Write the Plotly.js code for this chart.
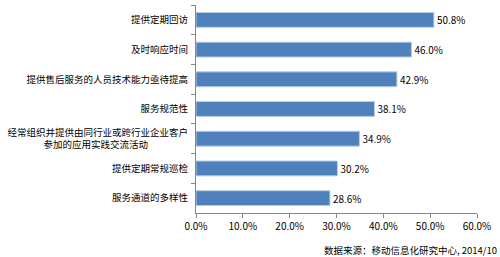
<!DOCTYPE html>
<html>
<head>
<meta charset="utf-8">
<script src="https://cdn.plot.ly/plotly-3.0.1.min.js"></script>
<style>html,body{margin:0;padding:0;background:#fff;}#chart{width:500px;height:257px;}</style>
</head>
<body>
<div id="chart"></div>
<script>
const categories = [
  "提供定期回访",
  "及时响应时间",
  "提供售后服务的人员技术能力亟待提高",
  "服务规范性",
  "经常组织并提供由同行业或跨行业企业客户<br>参加的应用实践交流活动　　　　 ",
  "提供定期常规巡检",
  "服务通道的多样性"
];
const values = [50.8, 46.0, 42.9, 38.1, 34.9, 30.2, 28.6];
const xTicks = [0, 10, 20, 30, 40, 50, 60];
const sourceText = "数据来源：移动信息化研究中心, 2014/10";

const FONT = "Noto Sans CJK SC, sans-serif";

Plotly.newPlot("chart", [{
  type: "bar",
  orientation: "h",
  y: categories,
  x: values,
  marker: {color: "#4F81BD", line: {color: "#B9CDE5", width: 1}},
  text: values.map(v => v.toFixed(1) + "%"),
  textposition: "outside",
  textfont: {family: FONT, size: 10, color: "#000"},
  cliponaxis: false,
  hoverinfo: "none"
}], {
  width: 500, height: 257,
  margin: {l: 196, r: 23, t: 5, b: 44, pad: 0},
  paper_bgcolor: "#fff", plot_bgcolor: "#fff",
  bargap: 0.5,
  showlegend: false,
  font: {family: FONT, size: 10, color: "#000"},
  xaxis: {
    range: [0, 60],
    tickvals: xTicks,
    ticktext: xTicks.map(v => v.toFixed(1) + "%"),
    showgrid: false, zeroline: false,
    showline: true, linecolor: "#868686", linewidth: 1,
    ticks: "outside", ticklen: 4, tickcolor: "#868686",
    tickfont: {family: FONT, size: 10, color: "#000"}
  },
  yaxis: {
    autorange: "reversed",
    type: "category",
    showgrid: false, zeroline: false,
    showline: true, linecolor: "#868686", linewidth: 1,
    ticks: "outside", ticklen: 4, tickcolor: "#868686",
    tickson: "boundaries",
    ticklabelstandoff: 5,
    tickfont: {family: FONT, size: 9.5, color: "#000"}
  },
  annotations: [{
    text: sourceText,
    xref: "paper", yref: "paper",
    x: 1.078, y: -0.135,
    xanchor: "right", yanchor: "top",
    showarrow: false,
    font: {family: FONT, size: 9.5, color: "#000"}
  }]
}, {displayModeBar: false, staticPlot: true});
</script>
</body>
</html>
